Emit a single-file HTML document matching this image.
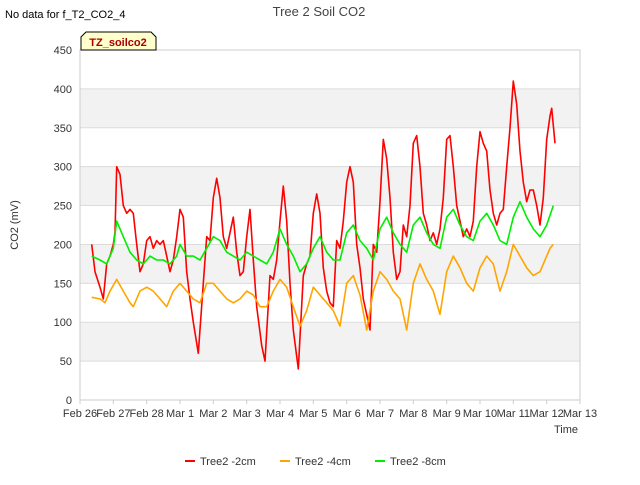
<!DOCTYPE html>
<html><head><meta charset="utf-8"><style>
body{margin:0;background:#fff;font-family:"Liberation Sans",sans-serif}
svg text{font-family:"Liberation Sans",sans-serif}
</style></head><body>
<svg id="c" width="640" height="480" xmlns="http://www.w3.org/2000/svg">
<rect width="640" height="480" fill="#fff"/>
<text x="5" y="18" font-size="11" fill="#000">No data for f_T2_CO2_4</text>
<text x="319" y="16" font-size="13" fill="#444" text-anchor="middle">Tree 2 Soil CO2</text>
<g id="plot"></g>
<text x="18" y="225" font-size="11" fill="#333" text-anchor="middle" transform="rotate(-90 18 225)">CO2 (mV)</text>
<text x="566" y="433" font-size="11" fill="#333" text-anchor="middle">Time</text>
<g>
<path d="M81,50 L81,37 L86,32 L151,32 L156,37 L156,50 Z" fill="#ffffcc" stroke="#000" stroke-width="1"/>
<text x="118" y="46" font-size="11" font-weight="bold" fill="#aa0000" text-anchor="middle">TZ_soilco2</text>
</g>
<g id="legend"></g>
</svg>
<script>
const yTicks=[0,50,100,150,200,250,300,350,400,450];
const xTickLabels=["Feb 26","Feb 27","Feb 28","Mar 1","Mar 2","Mar 3","Mar 4","Mar 5","Mar 6","Mar 7","Mar 8","Mar 9","Mar 10","Mar 11","Mar 12","Mar 13"];
const seriesNames=["Tree2 -2cm","Tree2 -4cm","Tree2 -8cm"];
const seriesColors=["#ff0000","#ffa500","#00ee00"];
const redDays=[0.35,0.45,0.6,0.7,0.8,0.9,1.0,1.05,1.1,1.2,1.3,1.4,1.5,1.6,1.7,1.8,1.9,2.0,2.1,2.2,2.3,2.4,2.5,2.6,2.7,2.8,2.9,3.0,3.1,3.2,3.3,3.4,3.55,3.7,3.8,3.9,4.0,4.1,4.2,4.3,4.4,4.5,4.6,4.7,4.8,4.9,5.0,5.1,5.2,5.3,5.45,5.55,5.7,5.8,5.9,6.0,6.1,6.2,6.3,6.4,6.55,6.7,6.8,6.9,7.0,7.1,7.2,7.3,7.4,7.5,7.6,7.7,7.8,7.9,8.0,8.1,8.2,8.3,8.4,8.5,8.6,8.7,8.8,8.9,9.0,9.1,9.2,9.3,9.4,9.5,9.6,9.7,9.8,9.9,10.0,10.1,10.2,10.3,10.4,10.5,10.6,10.7,10.8,10.9,11.0,11.1,11.2,11.3,11.4,11.5,11.6,11.7,11.8,11.9,12.0,12.1,12.2,12.3,12.4,12.5,12.6,12.7,12.8,12.9,13.0,13.1,13.2,13.3,13.4,13.5,13.6,13.7,13.8,13.9,14.0,14.1,14.15,14.25];
const redVals=[200,165,145,130,175,185,200,215,300,290,250,240,245,240,200,165,175,205,210,195,205,200,205,185,165,180,210,245,235,165,130,100,60,150,210,205,260,285,260,210,195,215,235,190,160,165,210,245,180,120,70,50,160,155,180,230,275,230,150,90,40,160,175,185,240,265,240,170,140,125,120,205,195,230,280,300,280,200,170,130,110,90,200,190,255,335,310,260,190,155,165,225,210,250,330,340,300,240,225,205,215,200,220,260,335,340,300,250,230,210,220,210,230,300,345,330,320,270,240,225,240,245,300,350,410,380,320,280,255,270,270,250,225,260,335,365,375,330];
const orangeDays=[0.35,0.6,0.75,0.9,1.1,1.3,1.5,1.6,1.8,2.0,2.2,2.4,2.6,2.8,3.0,3.2,3.4,3.6,3.8,4.0,4.2,4.4,4.6,4.8,5.0,5.2,5.4,5.6,5.8,6.0,6.2,6.4,6.6,6.8,7.0,7.2,7.4,7.6,7.8,8.0,8.2,8.4,8.6,8.8,9.0,9.2,9.4,9.6,9.8,10.0,10.2,10.4,10.6,10.8,11.0,11.2,11.4,11.6,11.8,12.0,12.2,12.4,12.6,12.8,13.0,13.2,13.4,13.6,13.8,14.0,14.1,14.2];
const orangeVals=[132,130,125,140,155,140,125,120,140,145,140,130,120,140,150,140,130,125,150,150,140,130,125,130,140,135,120,120,140,155,145,120,95,115,145,135,125,115,95,150,160,135,90,140,165,155,140,130,90,150,175,155,140,110,165,185,170,150,140,170,185,175,140,165,200,185,170,160,165,185,195,200];
const greenDays=[0.35,0.6,0.8,1.0,1.1,1.3,1.5,1.7,1.9,2.1,2.3,2.5,2.7,2.9,3.0,3.2,3.4,3.6,3.8,4.0,4.2,4.4,4.6,4.8,5.0,5.2,5.4,5.6,5.8,6.0,6.2,6.4,6.6,6.8,7.0,7.2,7.4,7.6,7.8,8.0,8.2,8.4,8.6,8.8,9.0,9.2,9.4,9.6,9.8,10.0,10.2,10.4,10.6,10.8,11.0,11.2,11.4,11.6,11.8,12.0,12.2,12.4,12.6,12.8,13.0,13.2,13.4,13.6,13.8,14.0,14.2];
const greenVals=[185,180,175,195,230,210,190,180,175,185,180,180,175,185,200,185,185,180,195,210,205,190,185,180,190,185,180,175,190,220,200,185,165,175,195,210,190,180,180,215,225,205,195,180,220,235,215,200,190,225,235,215,200,195,235,245,225,210,205,230,240,225,205,200,235,255,235,220,210,225,250];

const NS="http://www.w3.org/2000/svg";
const L=80,R=580,T=50,B=400;
const xs=d=>L+(R-L)*d/15;
const ys=v=>B-(B-T)*v/450;
const plot=document.getElementById('plot');
function mk(tag,attrs,parent){const e=document.createElementNS(NS,tag);for(const k in attrs)e.setAttribute(k,attrs[k]);(parent||plot).appendChild(e);return e;}
// bands
for(let i=0;i<yTicks.length-1;i++){
  if(i%2===1){const b=mk('rect',{x:L,y:ys(yTicks[i+1]),width:R-L,height:ys(yTicks[i])-ys(yTicks[i+1]),fill:'#f2f2f2'});
  
  }
}
yTicks.forEach(v=>{
  const g=mk('line',{x1:L,x2:R,y1:ys(v),y2:ys(v),stroke:'#dcdcdc','stroke-width':1});
  
  
  const t=mk('text',{x:L-8,y:ys(v)+4,'font-size':11,fill:'#333','text-anchor':'end'});
  t.textContent=v;
  
  
});
const frame=mk('rect',{x:L,y:T,width:R-L,height:B-T,fill:'none',stroke:'#ccc'});


xTickLabels.forEach((s,i)=>{
  const tk=mk('line',{x1:xs(i),x2:xs(i),y1:B,y2:B+4,stroke:'#ccc'});
  
  
  const t=mk('text',{x:xs(i),y:B+17,'font-size':11,fill:'#333','text-anchor':'middle'});
  t.textContent=s;
  
  
});
const sets=[[redDays,redVals],[orangeDays,orangeVals],[greenDays,greenVals]];
sets.forEach((s,k)=>{
  const d=s[0].map((x,i)=>(i?'L':'M')+xs(x).toFixed(1)+','+ys(s[1][i]).toFixed(1)).join(' ');
  const p=mk('path',{d:d,fill:'none',stroke:seriesColors[k],'stroke-width':1.6,'stroke-linejoin':'round'});
  
  
});
const lg=document.getElementById('legend');
const lx=[185,280,375];
seriesNames.forEach((n,k)=>{
  const g=mk('g',{},lg);
  
  
  mk('line',{x1:lx[k],x2:lx[k]+10,y1:461,y2:461,stroke:seriesColors[k],'stroke-width':2},g);
  const t=mk('text',{x:lx[k]+15,y:465,'font-size':11,fill:'#333'},g);
  t.textContent=n;
});
</script>
</body></html>
